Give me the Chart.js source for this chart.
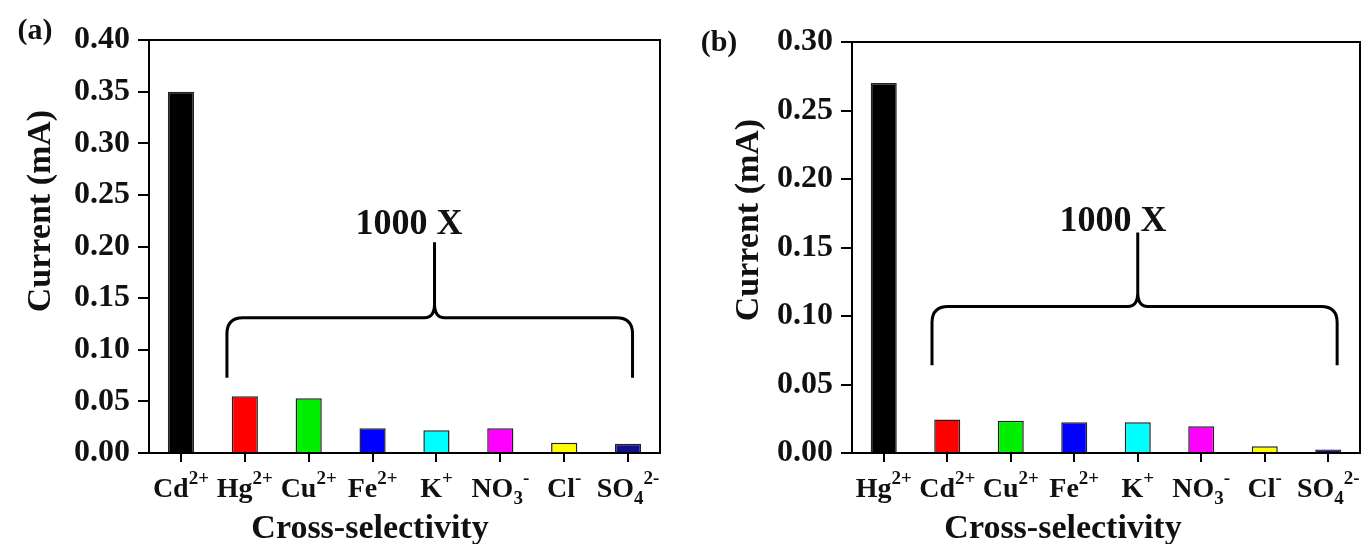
<!DOCTYPE html>
<html>
<head>
<meta charset="utf-8">
<script src="https://cdn.jsdelivr.net/npm/chart.js@4.4.0/dist/chart.umd.min.js"></script>
<style>
  body { margin: 0; background: #fff; }
  .panel { position: absolute; top: 0; height: 544px; }
</style>
</head>
<body>
<div class="panel" style="left:0;width:685px"><canvas id="chartA" width="685" height="544"></canvas></div>
<div class="panel" style="left:685px;width:686px"><canvas id="chartB" width="686" height="544"></canvas></div>
<script>
// (a) Cd2+ response vs. interfering ions (1000x)
var ionsA = ['Cd^2+', 'Hg^2+', 'Cu^2+', 'Fe^2+', 'K^+', 'NO_3^-', 'Cl^-', 'SO_4^2-']
var currentA = [0.350, 0.055, 0.053, 0.024, 0.022, 0.024, 0.010, 0.009]
var yMaxA = 0.40

// (b) Hg2+ response vs. interfering ions (1000x)
var ionsB = ['Hg^2+', 'Cd^2+', 'Cu^2+', 'Fe^2+', 'K^+', 'NO_3^-', 'Cl^-', 'SO_4^2-']
var currentB = [0.270, 0.0245, 0.0235, 0.0225, 0.0225, 0.0195, 0.005, 0.0025]
var yMaxB = 0.30

var yStep = 0.05
var yTitle = 'Current (mA)'
var xTitle = 'Cross-selectivity'
var braceText = '1000 X'

var barColors = ['#000000', '#ff0000', '#00ee00', '#0000ff', '#00ffff', '#ff00ff', '#ffff00', '#10108a']
var FONT = "'Liberation Serif', 'Times New Roman', serif"

// split 'NO_3^-' into normal / sub / sup pieces
function parseIon(s) {
    var parts = []
    var re = /\^([^\^_]+)|_([^\^_]+)|([^\^_]+)/g
    var m
    while ((m = re.exec(s)) !== null) {
        if (m[1]) parts.push({t: m[1], k: 'sup'})
        else if (m[2]) parts.push({t: m[2], k: 'sub'})
        else parts.push({t: m[3], k: 'n'})
    }
    return parts
}

function partFont(k) {
    if (k === 'n') return 'bold 28px ' + FONT
    return 'bold 19px ' + FONT
}

var panelPlugin = {
    id: 'panelExtras',
    afterDraw: function(chart) {
        var o = chart.options.plugins.panelExtras
        var ctx = chart.ctx
        var a = chart.chartArea
        var xs = chart.scales.x
        var ys = chart.scales.y
        ctx.save()

        // closed frame (top + right)
        ctx.strokeStyle = '#000'
        ctx.lineWidth = 2
        ctx.strokeRect(a.left, a.top, a.right - a.left, a.bottom - a.top)

        // ion tick labels with sub/superscripts
        ctx.fillStyle = '#111'
        ctx.textBaseline = 'alphabetic'
        ctx.textAlign = 'left'
        chart.data.labels.forEach(function(lab, i) {
            var parts = parseIon(lab)
            var w = 0
            parts.forEach(function(p) { ctx.font = partFont(p.k); w += ctx.measureText(p.t).width })
            var x = xs.getPixelForTick(i) - w / 2
            var base = a.bottom + 44
            parts.forEach(function(p) {
                ctx.font = partFont(p.k)
                var dy = p.k === 'sup' ? -13 : (p.k === 'sub' ? 7 : 0)
                ctx.fillText(p.t, x, base + dy)
                x += ctx.measureText(p.t).width
            })
        })

        // axis titles
        ctx.font = 'bold 34px ' + FONT
        ctx.textAlign = 'center'
        ctx.fillText(xTitle, o.xTitleX, 538)
        ctx.save()
        ctx.translate(o.yTitleX, o.yTitleY)
        ctx.rotate(-Math.PI / 2)
        ctx.textBaseline = 'middle'
        ctx.fillText(yTitle, 0, 0)
        ctx.restore()

        // panel letter
        ctx.font = 'bold 30px ' + FONT
        ctx.textBaseline = 'middle'
        ctx.fillText(o.letter, o.letterX, o.letterY)

        // curly brace over the interfering ions
        var b = o.brace
        var xL = xs.getPixelForValue(b.from), xR = xs.getPixelForValue(b.to), xC = xs.getPixelForValue(b.mid)
        var yB = ys.getPixelForValue(b.foot), yH = ys.getPixelForValue(b.bar), yP = ys.getPixelForValue(b.peak)
        var r = 16, r2 = 10
        ctx.lineWidth = 3
        ctx.strokeStyle = '#000'
        ctx.beginPath()
        ctx.moveTo(xL, yB)
        ctx.lineTo(xL, yH + r)
        ctx.quadraticCurveTo(xL, yH, xL + r, yH)
        ctx.lineTo(xC - r2, yH)
        ctx.quadraticCurveTo(xC, yH, xC, yH - r2 * 1.4)
        ctx.lineTo(xC, yP)
        ctx.moveTo(xC, yH - r2 * 1.4)
        ctx.quadraticCurveTo(xC, yH, xC + r2, yH)
        ctx.lineTo(xR - r, yH)
        ctx.quadraticCurveTo(xR, yH, xR, yH + r)
        ctx.lineTo(xR, yB)
        ctx.stroke()

        ctx.font = 'bold 36px ' + FONT
        ctx.textAlign = 'center'
        ctx.textBaseline = 'middle'
        ctx.fillText(braceText, xs.getPixelForValue(b.textX), ys.getPixelForValue(b.textY))
        ctx.restore()
    }
}

function makeChart(id, labels, values, yMax, box, extras) {
    var ctx = document.getElementById(id).getContext('2d')
    return new Chart(ctx, {
        type: 'bar',
        data: {
            labels: labels,
            datasets: [{
                data: values,
                backgroundColor: barColors,
                borderColor: '#222',
                borderWidth: 1.5,
                barPercentage: 0.41,
                categoryPercentage: 1.0
            }]
        },
        options: {
            responsive: false,
            animation: false,
            layout: { padding: { left: 0, right: box.right, top: box.top, bottom: 0 } },
            plugins: {
                legend: { display: false },
                tooltip: { enabled: false },
                panelExtras: extras
            },
            scales: {
                x: {
                    afterFit: function(s) { s.height = 544 - box.bottom },
                    grid: { display: true, drawOnChartArea: false, drawTicks: true, tickLength: 9, offset: false, color: '#000', lineWidth: 2 },
                    border: { display: true, color: '#000', width: 2 },
                    ticks: { display: false }
                },
                y: {
                    min: 0,
                    max: yMax,
                    afterFit: function(s) { s.width = box.left },
                    grid: { display: true, drawOnChartArea: false, drawTicks: true, tickLength: 11, color: '#000', lineWidth: 2 },
                    border: { display: true, color: '#000', width: 2 },
                    ticks: {
                        stepSize: yStep,
                        padding: 8,
                        color: '#111',
                        font: { family: FONT, size: 32, weight: 'bold' },
                        callback: function(v) { return v.toFixed(2) }
                    }
                }
            }
        },
        plugins: [panelPlugin]
    })
}

makeChart('chartA', ionsA, currentA, yMaxA,
    { left: 149, right: 25, top: 40, bottom: 453 },
    { letter: '(a)', letterX: 35, letterY: 31, yTitleX: 41, yTitleY: 211, xTitleX: 370,
      brace: { from: 0.72, to: 7.07, mid: 3.97, foot: 0.073, bar: 0.131, peak: 0.204, textX: 3.57, textY: 0.221 } })

makeChart('chartB', ionsB, currentB, yMaxB,
    { left: 167, right: 11, top: 42, bottom: 453 },
    { letter: '(b)', letterX: 34, letterY: 43, yTitleX: 64, yTitleY: 220, xTitleX: 378,
      brace: { from: 0.76, to: 7.14, mid: 4.0, foot: 0.064, bar: 0.107, peak: 0.161, textX: 3.61, textY: 0.169 } })
</script>
</body>
</html>
